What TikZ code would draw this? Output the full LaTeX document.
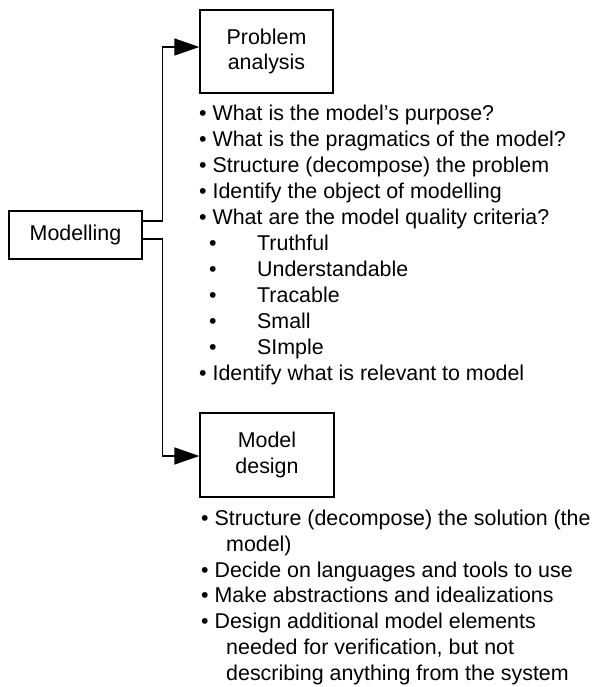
\documentclass[tikz,border=0pt]{standalone}
\usepackage{fontspec}
\setmainfont{Liberation Sans}
\usetikzlibrary{arrows.meta}
\begin{document}
\begin{tikzpicture}[x=1pt,y=-1pt,
  every node/.style={font=\fontsize{21.4pt}{25.5pt}\selectfont},
  box/.style={draw,line width=1.3pt,inner sep=0pt,align=center},
  item/.style={anchor=base west,inner sep=0pt},
  conn/.style={line width=1.3pt,-{Triangle[length=25pt,width=17pt]}}]
\useasboundingbox (0,0) rectangle (592,687);
\node[box,minimum width=133pt,minimum height=48pt] (mod) at (75.5,235) {Modelling};
\node[box,minimum width=133pt,minimum height=83pt] (pa) at (266.5,51.5) {Problem\\analysis};
\node[box,minimum width=134pt,minimum height=84pt] (md) at (267,455) {Model\\design};
\draw[conn] ([yshift=14pt]mod.east) -- ++(20,0) |- ([yshift=4.5pt]pa.west);
\draw[conn] ([yshift=-4pt]mod.east) -- ++(20,0) |- ([yshift=-1pt]md.west);
% problem analysis list
\node[item] (p1) at (199,121) {• What is the model’s purpose?};
\node[item] (p2) at (199,147) {• What is the pragmatics of the model?};
\node[item] (p3) at (199,172.5) {• Structure (decompose) the problem};
\node[item] (p4) at (199,198.5) {• Identify the object of modelling};
\node[item] (p5) at (199,224) {• What are the model quality criteria?};
\node[item] (p6) at (209,250) {\makebox[48pt][l]{•}Truthful};
\node[item] (p7) at (209,276) {\makebox[48pt][l]{•}Understandable};
\node[item] (p8) at (209,302) {\makebox[48pt][l]{•}Tracable};
\node[item] (p9) at (209,328) {\makebox[48pt][l]{•}Small};
\node[item] (p10) at (209,354) {\makebox[48pt][l]{•}SImple};
\node[item] (p11) at (199,380) {• Identify what is relevant to model};
% model design list
\node[item] (d1) at (201,525.5) {• Structure (decompose) the solution (the};
\node[item] (d2) at (226,551) {model)};
\node[item] (d3) at (201,577) {• Decide on languages and tools to use};
\node[item] (d4) at (201,602.5) {• Make abstractions and idealizations};
\node[item] (d5) at (201,628.5) {• Design additional model elements};
\node[item] (d6) at (226,654) {needed for verification, but not};
\node[item] (d7) at (226,680) {describing anything from the system};
\end{tikzpicture}
\end{document}
